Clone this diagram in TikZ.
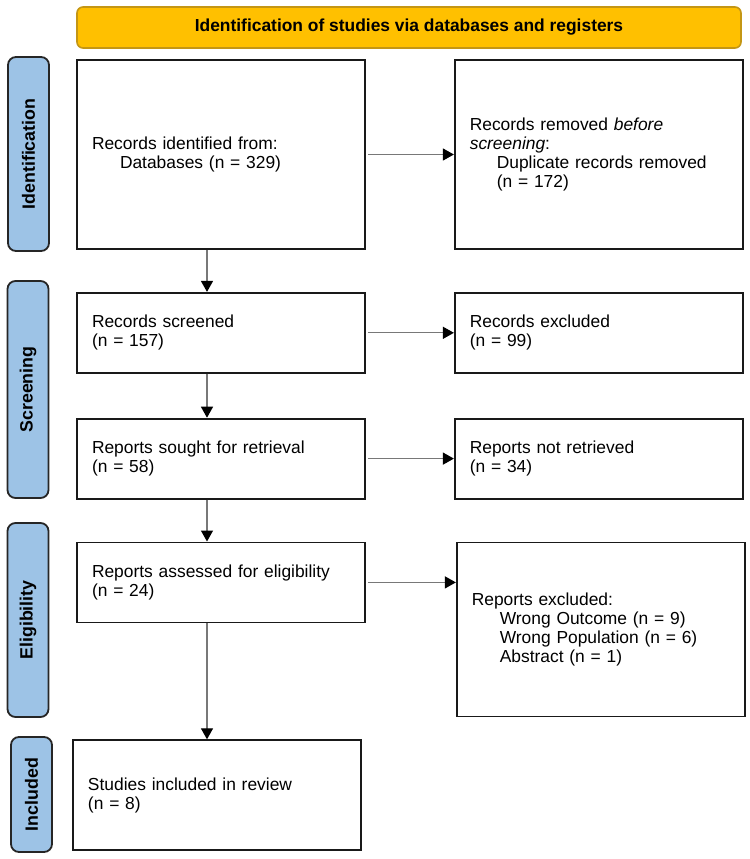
\documentclass[tikz,border=0pt]{standalone}
\usepackage{fontspec}
\setmainfont{Liberation Sans}
\usepackage{tikz}
\usetikzlibrary{arrows.meta, positioning}

\definecolor{prismagold}{RGB}{255,192,0}
\definecolor{prismagoldedge}{RGB}{196,150,20}
\definecolor{phaseblue}{RGB}{157,195,230}
\definecolor{linkgray}{RGB}{120,120,120}

\begin{document}
\begin{tikzpicture}[
        x=1pt, y=1pt,
        font=\fontsize{8.7}{9.5}\selectfont,
        box/.style={rectangle, draw=black!90, line width=0.9pt, minimum width=144pt, text width=129pt, inner xsep=7.5pt, align=left},
        phase/.style={rectangle, rounded corners=4pt, draw=black!85, line width=0.9pt, fill=phaseblue, minimum height=20.5pt, rotate=90, font=\fontsize{8.9}{9.5}\selectfont\bfseries},
        banner/.style={rectangle, rounded corners=3pt, draw=prismagoldedge, line width=0.8pt, fill=prismagold, minimum width=332pt, minimum height=20.5pt, font=\fontsize{8.7}{9.5}\selectfont\bfseries},
        link/.style={-{Triangle[length=5.5pt, width=6pt, color=black]}, draw=linkgray, line width=0.65pt}
    ]
    \useasboundingbox (0,0) rectangle (375,-429.5);

    % Header
    \node[banner] (header) at (204.5,-13.75) {Identification of studies via databases and registers};

    % Identification
    \node[box, minimum height=94.5pt] (ident) at (110.5,-77.25) {Records identified from:\\\hspace*{14pt}Databases (n = 329)};
    \node[box, minimum height=94.5pt, right=44pt of ident] (removed) {Records removed \textit{before}\\\textit{screening}:\\\hspace*{13.5pt}Duplicate records removed\\\hspace*{13.5pt}(n = 172)};

    % Screening
    \node[box, minimum height=40pt, below=21pt of ident] (screened) {Records screened\\(n = 157)};
    \node[box, minimum height=40pt, right=44pt of screened] (excluded) {Records excluded\\(n = 99)};
    \node[box, minimum height=40pt, below=22pt of screened] (sought) {Reports sought for retrieval\\(n = 58)};
    \node[box, minimum height=40pt, right=44pt of sought] (notretrieved) {Reports not retrieved\\(n = 34)};

    % Eligibility
    \node[box, minimum height=40pt, below=21pt of sought] (assessed) {Reports assessed for eligibility\\(n = 24)};
    \node[box, minimum height=87pt, right=45pt of assessed.north east, anchor=north west] (reportsexcl) {Reports excluded:\\\hspace*{14pt}Wrong Outcome (n = 9)\\\hspace*{14pt}Wrong Population (n = 6)\\\hspace*{14pt}Abstract (n = 1)};

    % Included
    \node[box, minimum height=55pt, below=58pt of assessed, xshift=-2pt] (studies) {Studies included in review\\(n = 8)};

    % Phase tabs
    \node[phase, minimum width=97pt] (idtab) at (14.25,-77) {Identification};
    \node[phase, minimum width=108.5pt] (screentab) at (14,-194.75) {Screening};
    \node[phase, minimum width=97pt] (eligtab) at (14,-310) {Eligibility};
    \node[phase, minimum width=57.5pt] (inctab) at (15.75,-397.25) {Included};

    % Links: down the main column
    \draw[link] ([xshift=-7pt]ident.south) -- ([xshift=-7pt]screened.north);
    \draw[link] ([xshift=-7pt]screened.south) -- ([xshift=-7pt]sought.north);
    \draw[link] ([xshift=-7pt]sought.south) -- ([xshift=-7pt]assessed.north);
    \draw[link] ([xshift=-7pt]assessed.south) -- ([xshift=-7pt]assessed.south |- studies.north);

    % Links: to the exclusions
    \draw[link, shorten <=1pt] (ident) -- (removed);
    \draw[link, shorten <=1pt] (screened) -- (excluded);
    \draw[link, shorten <=1pt] (sought) -- (notretrieved);
    \draw[link, shorten <=1pt] (assessed.east) -- (assessed.east -| reportsexcl.west);

\end{tikzpicture}
\end{document}
